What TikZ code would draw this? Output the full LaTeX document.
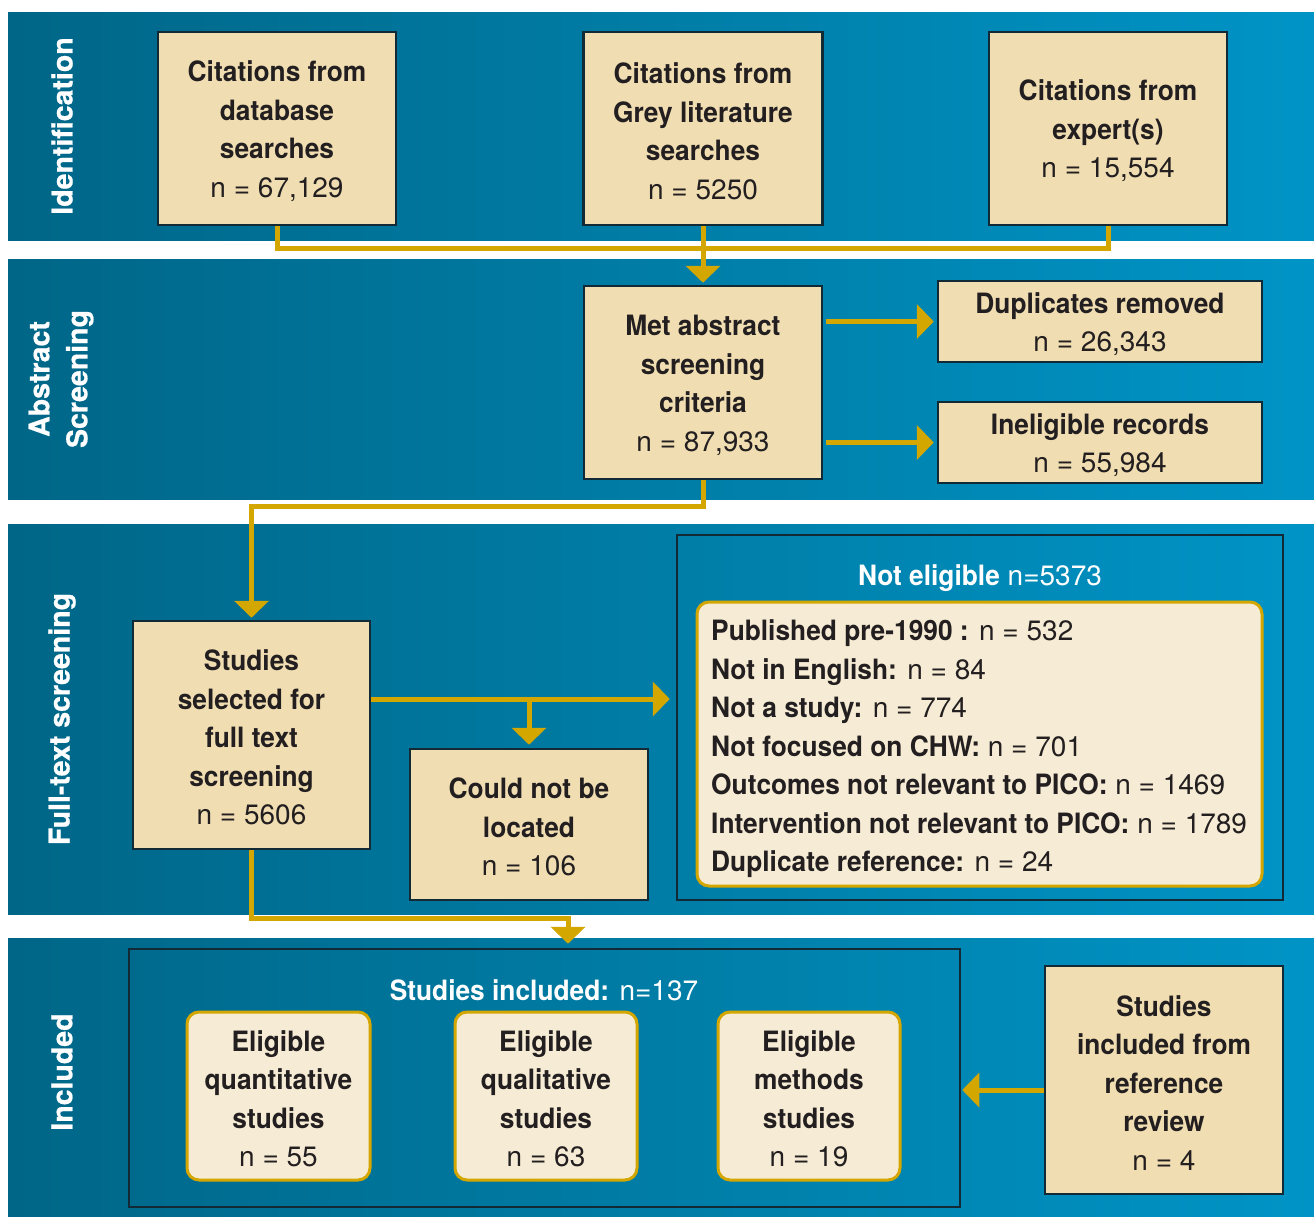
\documentclass[tikz,border=0pt]{standalone}
\usepackage{fontspec}
\setmainfont{TeX Gyre Heros}[BoldFeatures={FakeStretch=0.94}]
\newfontfamily\lblfont{TeX Gyre Heros}[BoldFeatures={FakeBold=0.6}]
\usetikzlibrary{arrows.meta,calc}
\definecolor{bandL}{RGB}{0,102,135}
\definecolor{bandR}{RGB}{0,148,198}
\definecolor{boxfill}{RGB}{240,222,178}
\definecolor{innerfill}{RGB}{246,235,212}
\definecolor{gold}{RGB}{212,166,0}
\definecolor{edge}{RGB}{18,42,54}
\definecolor{ink}{RGB}{35,31,32}
\newcommand\boxtop{\rule{0pt}{26pt}}
\begin{document}
\begin{tikzpicture}[x=1pt,y=-1pt,
  txt/.style={font=\fontsize{28}{38.5}\selectfont, text=ink},
  box/.style={txt, draw=edge, line width=2.5pt, fill=boxfill, align=center, inner sep=0pt},
  frame/.style={draw=edge, line width=2.5pt, inner sep=0pt},
  ibox/.style={txt, draw=gold, line width=3pt, fill=innerfill, rounded corners=12pt, align=center, inner sep=0pt},
  lbl/.style={font=\lblfont\bfseries\fontsize{28.5}{38}\selectfont, text=white, align=center, rotate=90, inner sep=0pt},
  title/.style={font=\fontsize{28}{34}\selectfont, text=white, inner sep=0pt},
  link/.style={draw=gold, line width=5pt},
  arr/.style={link, -{Triangle[length=17pt,width=34pt]}},
]
\fill[white] (0,0) rectangle (1314,1216);
\useasboundingbox (0,0) rectangle (1314,1216);
% bands
\shade[left color=bandL, right color=bandR] (8,12) rectangle (1314,240);
\shade[left color=bandL, right color=bandR] (8,259) rectangle (1314,499);
\shade[left color=bandL, right color=bandR] (8,524) rectangle (1314,914);
\shade[left color=bandL, right color=bandR] (8,938) rectangle (1314,1216);
% band labels
\node[lbl] (L1) at (62,126) {Identification};
\node[lbl] (L2) at (61,379) {Abstract\\Screening};
\node[lbl] (L3) at (62,719) {Full-text screening};
\node[lbl] (L4) at (62,1072) {Included};
% identification
\node[box, minimum width=238pt, minimum height=193pt] (A) at (277,128.5)
  {\boxtop\textbf{Citations from}\\\textbf{database}\\\textbf{searches}\\n = 67,129};
\node[box, minimum width=239pt, minimum height=193pt] (B) at (703,128.5)
  {\boxtop\textbf{Citations from}\\\textbf{Grey literature}\\\textbf{searches}\\n = 5250};
\node[box, minimum width=238pt, minimum height=193pt] (C) at (1108,128.5)
  {\boxtop\textbf{Citations from}\\\textbf{expert(s)}\\n = 15,554};
% abstract screening
\node[box, minimum width=238pt, minimum height=193pt] (D) at (703,382.5)
  {\boxtop\textbf{Met abstract}\\\textbf{screening}\\\textbf{criteria}\\n = 87,933};
\node[box, minimum width=324pt, minimum height=81pt] (E) at (1100,321.5)
  {\boxtop\textbf{Duplicates removed}\\n = 26,343};
\node[box, minimum width=324pt, minimum height=81pt] (F) at (1100,442.5)
  {\boxtop\textbf{Ineligible records}\\n = 55,984};
% full text screening
\node[box, minimum width=237pt, minimum height=228pt] (G) at (251.5,735)
  {\boxtop\textbf{Studies}\\\textbf{selected for}\\\textbf{full text}\\\textbf{screening}\\n = 5606};
\node[box, minimum width=238pt, minimum height=151pt] (H) at (529,824.5)
  {\boxtop\textbf{Could not be}\\\textbf{located}\\n = 106};
\node[frame, minimum width=606pt, minimum height=365pt] (NE) at (980,717.5) {};
\node[title] (NEt) at (980,578) {\textbf{Not eligible} n=5373};
\node[ibox, minimum width=565pt, minimum height=284pt] (IL) at (979.5,744) {};
\node[txt, anchor=west, align=left, inner sep=0pt] (ILt) at (711,749)
  {\textbf{Published pre-1990 :} n = 532\\
   \textbf{Not in English:} n = 84\\
   \textbf{Not a study:} n = 774\\
   \textbf{Not focused on CHW:} n = 701\\
   \textbf{Outcomes not relevant to PICO:} n = 1469\\
   \textbf{Intervention not relevant to PICO:} n = 1789\\
   \textbf{Duplicate reference:} n = 24};
% included
\node[frame, minimum width=831pt, minimum height=258pt] (SI) at (544.5,1078) {};
\node[title] (SIt) at (544,990) {\textbf{Studies included:} n=137};
\node[ibox, minimum width=183pt, minimum height=168pt] (Q1) at (278.5,1096)
  {\boxtop\textbf{Eligible}\\\textbf{quantitative}\\\textbf{studies}\\n = 55};
\node[ibox, minimum width=182pt, minimum height=168pt] (Q2) at (546,1096)
  {\boxtop\textbf{Eligible}\\\textbf{qualitative}\\\textbf{studies}\\n = 63};
\node[ibox, minimum width=182pt, minimum height=168pt] (Q3) at (809,1096)
  {\boxtop\textbf{Eligible}\\\textbf{methods}\\\textbf{studies}\\n = 19};
\node[box, minimum width=238pt, minimum height=228pt] (R) at (1164,1080)
  {\boxtop\textbf{Studies}\\\textbf{included from}\\\textbf{reference}\\\textbf{review}\\n = 4};
% connectors
\draw[link] (A.south) -- ++(0,22) -| (C.south);
\draw[arr, shorten >=2pt] (B.south) -- (B.south |- D.north);
\draw[arr, shorten <=3pt, shorten >=3pt] (D.east |- E.west) -- (E.west);
\draw[arr, shorten <=3pt, shorten >=3pt] (D.east |- F.west) -- (F.west);
\draw[arr, shorten >=2pt] (D.south) -- ++(0,26) -| (G.north);
\coordinate (gj) at ($(G.east)+(0,-36)$);
\draw[arr, shorten >=6pt] (gj) -- (gj -| NE.west);
\draw[arr, shorten >=3pt] (gj -| H.north) -- (H.north);
\coordinate (j3) at (568,918);
\draw[arr, shorten >=4pt] (G.south) |- (j3) -- (j3 |- SI.north);
\coordinate (rj) at ($(R.west)+(0,10)$);
\draw[arr, shorten >=1pt] (rj) -- (rj -| SI.east);
\end{tikzpicture}
\end{document}
